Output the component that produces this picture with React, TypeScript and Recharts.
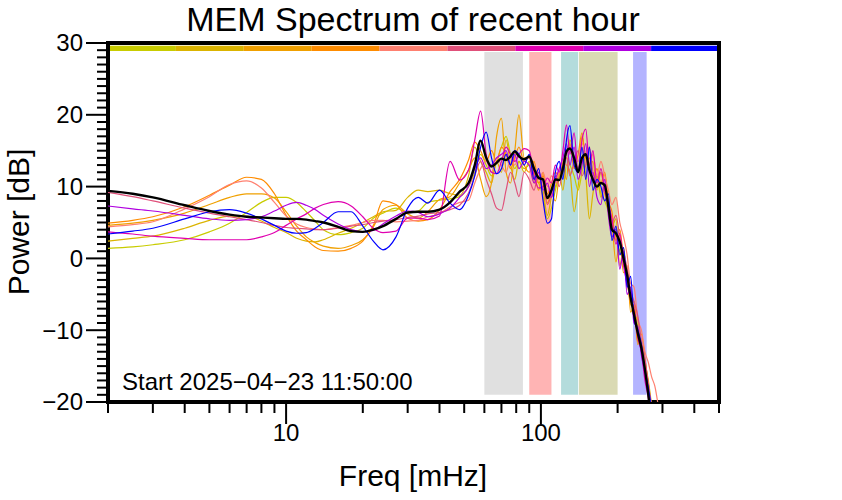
import React from 'react'
import { LineChart, Line, XAxis, YAxis, ReferenceArea } from 'recharts'

// frequency grid in mHz
const freqs = [
  2, 2.5, 3, 4, 5, 6, 7, 8, 9, 10, 11, 12, 13, 14, 16, 18, 20, 22, 24, 27, 30, 33, 36, 40, 44, 48,
  52, 55, 58, 61, 64, 67, 70, 73, 76, 79, 82, 86, 90, 94, 98, 102, 106, 110, 114, 118, 122, 126, 130, 135,
  140, 145, 150, 155, 160, 166, 172, 178, 184, 190, 197, 204, 211, 218, 225, 232, 240, 248, 256, 264, 272,
  280, 290,
]

const lime = [
  1.4, 1.6, 1.9, 2.6, 3.7, 4.9, 6.4, 7.8, 8.5, 8.5, 7.8, 6.5, 5.2, 4.0, 3.3, 3.6, 4.2, 5.6, 6.3, 7.0, 6.4, 6.6, 7.8, 8.1, 8.3, 8.6,
  10.0, 12.0, 14.5, 13.0, 11.5, 13.5, 15.5, 17.0, 14.5, 12.5, 13.5, 12.5, 13.0, 11.0, 10.5, 8.5, 5.5, 7.0, 9.5, 11.5, 12.0, 14.0, 13.0, 11.5,
  9.5, 12.0, 14.5, 13.0, 10.5, 11.5, 9.0, 8.0, 6.5, 4.0, 3.0, 1.0, -0.5, -3.5, -6.0, -7.0, -9.5, -12.5, -15.0, -18.5, -22.0,
  -25, -28,
]
const golden = [
  2.4, 2.8, 3.1, 4.2, 5.3, 5.9, 5.9, 5.2, 4.3, 3.6, 2.8, 2.4, 2.3, 2.6, 3.5, 4.2, 5.0, 5.8, 6.5, 6.7, 8.5, 9.5, 9.3, 9.5, 9.0, 8.8,
  11.5, 15.5, 13.5, 12.0, 10.5, 13.5, 12.0, 16.5, 13.0, 11.0, 13.5, 12.0, 13.5, 10.5, 11.5, 9.5, 6.0, 8.5, 10.0, 12.0, 9.5, 13.0, 12.0, 6.5,
  10.0, 14.0, 11.5, 5.5, 9.0, 11.5, 8.5, 10.5, 7.0, 4.5, 5.5, -1.0, 1.5, -3.0, -5.0, -8.0, -8.5, -12.0, -14.5, -17.0, -20.5,
  -24, -27,
]
const amber = [
  4.6, 4.9, 5.3, 6.3, 7.5, 8.5, 9.0, 9.0, 8.4, 6.5, 4.5, 3.0, 2.2, 1.7, 1.4, 1.8, 2.6, 4.4, 6.8, 7.4, 6.2, 5.6, 6.5, 8.2, 8.6, 10.5,
  12.3, 14.0, 11.0, 8.6, 10.5, 17.0, 19.5, 12.0, 10.5, 15.0, 20.0, 14.0, 14.0, 12.0, 9.5, 12.0, 7.7, 9.0, 8.0, 11.5, 13.0, 11.0, 16.5, 14.0,
  12.5, 17.0, 14.0, 12.5, 13.5, 9.5, 12.0, 9.0, 7.5, 5.0, -0.5, 2.5, -2.0, -1.0, -7.5, -6.5, -12.0, -10.5, -14.0, -17.5, -21.0,
  -23, -27,
]
const darkOrange = [
  4.9, 5.3, 5.8, 7.2, 8.8, 10.2, 11.3, 11.0, 9.0, 6.0, 3.8, 2.6, 1.6, 1.1, 1.0, 1.4, 2.4, 4.6, 8.0, 7.5, 5.6, 5.2, 5.4, 6.8, 9.3, 11.0,
  13.7, 16.2, 15.0, 13.5, 15.0, 13.5, 15.5, 14.5, 12.5, 14.0, 15.5, 13.0, 12.0, 13.5, 10.5, 11.5, 9.0, 10.5, 12.0, 11.5, 13.5, 14.5, 16.0, 12.5,
  14.5, 17.5, 13.0, 14.0, 11.0, 12.5, 10.5, 12.0, 8.0, 6.5, 2.5, 4.0, 0.0, -2.0, -6.5, -6.0, -11.5, -12.0, -15.0, -18.0, -21.5,
  -24, -28,
]
const salmon = [
  4.4, 4.7, 5.1, 6.9, 8.6, 10.3, 10.8, 9.8, 7.8, 5.9, 4.8, 4.3, 4.1, 4.0, 4.3, 4.6, 5.0, 5.3, 5.3, 5.1, 5.2, 5.3, 5.8, 6.2, 7.2, 7.8,
  8.1, 10.5, 12.5, 13.5, 12.0, 14.0, 13.0, 12.0, 14.0, 13.0, 14.5, 13.5, 14.0, 12.5, 11.0, 12.0, 10.0, 11.5, 10.5, 12.0, 13.5, 13.0, 15.5, 14.0,
  13.5, 16.0, 14.5, 12.5, 14.5, 11.5, 13.5, 11.5, 9.5, 7.5, 8.5, 5.0, 3.0, 0.5, -3.5, -4.0, -8.5, -10.0, -13.0, -14.5, -16.5,
  -17.8, -21,
]
const rose = [
  9.2, 8.6, 8.0, 7.0, 6.3, 5.8, 5.4, 5.0, 4.6, 4.3, 4.2, 4.1, 4.0, 4.0, 4.2, 4.5, 4.7, 5.0, 5.2, 5.4, 5.7, 5.9, 6.2, 6.4, 6.8, 7.4,
  9.1, 11.5, 13.5, 11.0, 9.0, 7.0, 6.7, 9.5, 12.0, 10.5, 8.6, 12.0, 11.0, 9.5, 12.0, 10.5, 7.5, 9.0, 11.5, 10.0, 12.5, 14.0, 11.5, 13.5,
  15.0, 11.5, 13.0, 15.5, 12.0, 10.5, 12.0, 9.5, 8.0, 5.0, 6.0, 3.0, 1.0, -1.5, -4.5, -6.0, -8.0, -11.5, -14.0, -17.5, -20.5,
  -23, -26,
]
const magenta = [
  3.7, 3.4, 3.1, 2.8, 2.6, 2.6, 2.6, 3.0, 3.6, 4.6, 5.5, 6.2, 7.0, 7.5, 7.9, 7.3, 5.8, 4.2, 3.6, 3.8, 5.6, 5.6, 5.4, 5.9, 13.5, 10.9,
  12.3, 16.5, 20.5, 14.5, 12.0, 11.8, 13.5, 15.5, 14.5, 13.5, 14.5, 15.3, 15.0, 11.5, 9.8, 10.0, 11.2, 10.5, 13.0, 12.0, 15.0, 18.6, 14.5, 17.5,
  12.0, 16.5, 18.0, 13.0, 15.0, 10.5, 12.5, 9.5, 7.5, 5.5, 2.0, 3.5, -1.0, -3.5, -5.5, -7.0, -11.0, -13.0, -17.0, -19.5, -24.0,
  -26, -29,
]
const purple = [
  7.3, 6.9, 6.6, 6.0, 5.5, 5.3, 5.4, 5.8, 6.6, 7.4, 7.8, 7.4, 6.8, 6.0, 4.8, 4.0, 3.7, 3.9, 4.8, 5.9, 6.6, 6.4, 5.8, 6.2, 7.0, 8.5,
  10.0, 12.5, 14.0, 12.5, 13.0, 14.0, 14.5, 15.0, 13.0, 14.5, 12.5, 13.5, 13.0, 10.5, 12.0, 9.5, 10.5, 8.5, 11.0, 12.5, 14.0, 16.0, 13.0, 15.5,
  11.0, 13.0, 16.0, 10.0, 12.0, 8.5, 7.5, 11.0, 6.0, 3.0, 4.0, -1.5, 1.0, -5.0, -4.0, -9.0, -9.5, -13.5, -16.0, -19.0, -22.0,
  -25, -28,
]
const blue = [
  3.4, 3.8, 4.2, 5.5, 6.5, 6.8, 6.3, 5.5, 4.6, 3.8, 3.5, 3.6, 4.2, 5.0, 6.5, 6.5, 4.5, 2.4, 1.2, 3.0, 7.0, 8.5, 7.7, 9.5, 7.7, 6.8,
  8.8, 11.5, 15.5, 17.6, 14.0, 11.8, 12.5, 14.5, 13.0, 15.0, 14.5, 13.0, 14.5, 11.0, 12.5, 8.0, 4.9, 5.5, 12.0, 13.5, 11.0, 16.5, 18.5, 13.0,
  12.0, 15.5, 11.0, 15.5, 9.5, 11.0, 10.0, 8.0, 9.0, 2.5, 4.5, 0.5, 1.5, -4.0, -2.5, -8.5, -10.0, -12.0, -15.5, -18.0, -21.0,
  -24, -27,
]
const mean = [
  9.4, 9.0, 8.5, 7.4, 6.6, 6.1, 5.8, 5.7, 5.6, 5.5, 5.5, 5.4, 5.2, 5.0, 4.4, 3.8, 3.7, 4.0, 4.5, 5.5, 6.4, 6.5, 6.5, 6.8, 7.8, 9.3,
  10.5, 13.0, 16.4, 14.0, 12.8, 13.3, 13.9, 13.7, 14.2, 14.9, 14.2, 13.8, 14.2, 12.5, 11.2, 11.0, 8.4, 9.5, 11.0, 10.9, 12.5, 14.9, 15.3, 14.0,
  12.0, 14.0, 14.5, 12.3, 11.0, 10.0, 10.5, 10.2, 7.2, 4.0, 3.5, 2.3, 0.0, -2.3, -5.5, -7.8, -10.4, -12.5, -15.5, -19.0, -23.0,
  -26, -29,
]

const series = [
  { key: 'lime', color: '#c8cc00', values: lime },
  { key: 'golden', color: '#dbb400', values: golden },
  { key: 'amber', color: '#f0a000', values: amber },
  { key: 'darkOrange', color: '#ff8c00', values: darkOrange },
  { key: 'salmon', color: '#ff8070', values: salmon },
  { key: 'rose', color: '#e0507a', values: rose },
  { key: 'magenta', color: '#e000b0', values: magenta },
  { key: 'purple', color: '#b000e0', values: purple },
  { key: 'blue', color: '#0000ff', values: blue },
]

// frequency bands (mHz)
const bands = [
  { from: 60, to: 85, color: '#e0e0e0' },
  { from: 90, to: 110, color: '#ffb4b4' },
  { from: 120, to: 140, color: '#b4dcdc' },
  { from: 141, to: 200, color: '#dadab4' },
  { from: 230, to: 260, color: '#b4b4ff' },
]

const xTicks = [2, 3, 4, 5, 6, 7, 8, 9, 10, 20, 30, 40, 50, 60, 70, 80, 90, 100, 200, 300, 400, 500]
const xLabels = [10, 100]
const yTicks = Array.from({ length: 51 }, (_, i) => i - 20)
const yLabels = [-20, -10, 0, 10, 20, 30]

const X_MIN = 2
const X_MAX = 500
const FONT = '"Liberation Sans", Arial, sans-serif'

const rows = freqs.map((f, i) => {
  const r: Record<string, number> = { f, mean: mean[i] }
  series.forEach((s) => { r[s.key] = s.values[i] })
  return r
})

// colour strip along the top, equal log-width segments
const strip = series.map((s, i) => {
  const span = Math.log10(X_MAX / X_MIN)
  return {
    from: X_MIN * Math.pow(10, (span * i) / series.length),
    to: X_MIN * Math.pow(10, (span * (i + 1)) / series.length),
    color: s.color,
  }
})

const minus = (v: number) => (v < 0 ? `\u2212${Math.abs(v)}` : `${v}`)

const XTick = (props: any) => {
  const { x, y, payload } = props
  const major = xLabels.includes(payload.value)
  return (
    <g>
      <line x1={x} y1={y} x2={x} y2={y + (major ? 22 : 11)} stroke="#000" strokeWidth={2} />
      {major && (
        <text x={x} y={y + 39} textAnchor="middle" fontSize={24} fontFamily={FONT} fill="#000">
          {payload.value}
        </text>
      )}
    </g>
  )
}

const YTick = (props: any) => {
  const { x, y, payload } = props
  const major = yLabels.includes(payload.value)
  return (
    <g>
      <line x1={x} y1={y} x2={x - (major ? 22 : 11)} y2={y} stroke="#000" strokeWidth={2} />
      {major && (
        <text x={x - 25} y={y} dy="0.35em" textAnchor="end" fontSize={24} fontFamily={FONT} fill="#000">
          {minus(payload.value)}
        </text>
      )}
    </g>
  )
}

export default function App() {
  return (
    <div style={{ position: 'absolute', left: 0, top: 0, width: 842, height: 500, background: '#fff', fontFamily: FONT }}>
      <LineChart width={842} height={500} data={rows} margin={{ top: 43, right: 123, bottom: 68, left: 48 }}>
        <XAxis
          dataKey="f" type="number" scale="log" domain={[X_MIN, X_MAX]} allowDataOverflow
          ticks={xTicks} interval={0} height={30} tickSize={0} tickMargin={0}
          axisLine={false} tickLine={false} tick={XTick}
        />
        <YAxis
          type="number" domain={[-20, 30]} allowDataOverflow ticks={yTicks} interval={0}
          width={60} tickSize={0} tickMargin={0} axisLine={false} tickLine={false} tick={YTick}
        />
        {bands.map((b) => (
          <ReferenceArea key={b.from} x1={b.from} x2={b.to} y1={-19} y2={28.75} fill={b.color} fillOpacity={1} stroke="none" />
        ))}
        {strip.map((s) => (
          <ReferenceArea key={s.color} x1={s.from} x2={s.to} y1={28.9} y2={29.6} fill={s.color} fillOpacity={1} stroke="none" />
        ))}
        {series.map((s) => (
          <Line key={s.key} dataKey={s.key} type="monotone" stroke={s.color} strokeWidth={1.2} dot={false} activeDot={false} isAnimationActive={false} />
        ))}
        <Line dataKey="mean" type="monotone" stroke="#000" strokeWidth={2.4} dot={false} activeDot={false} isAnimationActive={false} />
        <ReferenceArea x1={X_MIN} x2={X_MAX} y1={-20} y2={30} fill="none" stroke="#000" strokeWidth={4} ifOverflow="visible" />
      </LineChart>
      <svg width={842} height={500} style={{ position: 'absolute', left: 0, top: 0, pointerEvents: 'none' }}>
        <text x={413} y={31} textAnchor="middle" fontSize={34} fontFamily={FONT} fill="#000">MEM Spectrum of recent hour</text>
        <text x={413} y={486} textAnchor="middle" fontSize={30} fontFamily={FONT} fill="#000">Freq [mHz]</text>
        <text transform="translate(29,222) rotate(-90)" textAnchor="middle" fontSize={30} fontFamily={FONT} fill="#000">Power [dB]</text>
        <text x={122} y={390} fontSize={24} fontFamily={FONT} fill="#000">Start 2025{'\u2212'}04{'\u2212'}23 11:50:00</text>
      </svg>
    </div>
  )
}
